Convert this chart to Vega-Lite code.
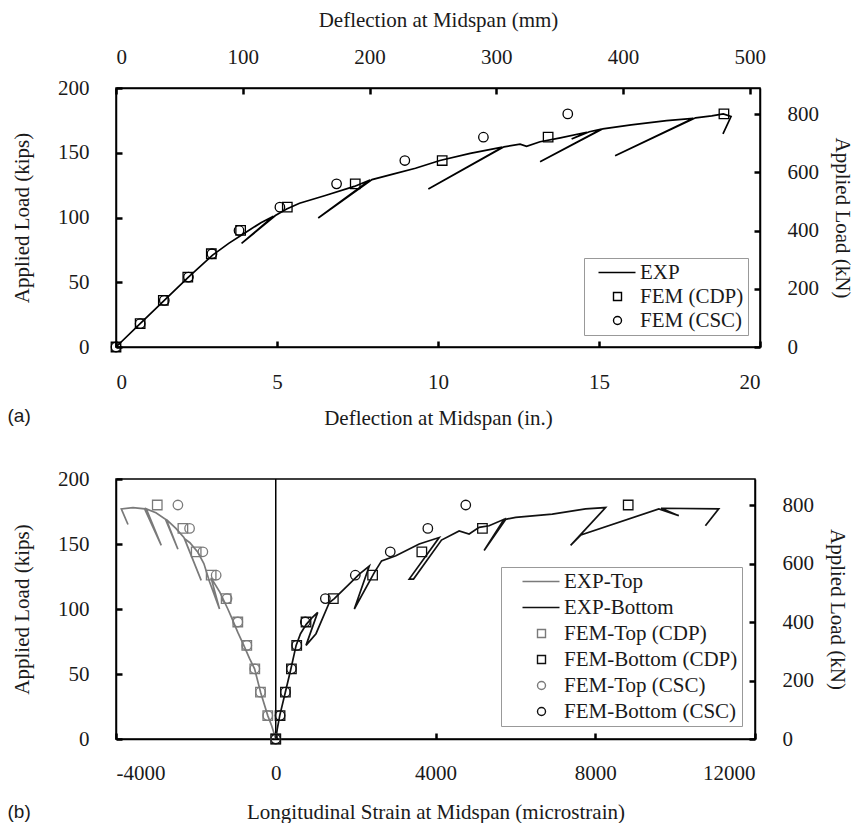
{
  "$schema": "https://vega.github.io/schema/vega-lite/v6.json",
  "padding": {"left": 6, "top": 8, "right": 0, "bottom": 0},
  "background": "white",
  "resolve": {"scale": {"shape": "independent", "color": "independent", "stroke": "independent", "x": "independent", "y": "independent"}},
  "config": {
    "font": "Liberation Serif",
    "view": {"stroke": "black", "strokeWidth": 1.5},
    "concat": {"spacing": 38},
    "axis": {
      "grid": false, "domainColor": "black", "domainWidth": 1.5,
      "tickColor": "black", "tickWidth": 2.5, "tickSize": -6,
      "labelFont": "Liberation Serif", "labelFontSize": 21, "labelColor": "#1a1a1a",
      "titleFont": "Liberation Serif", "titleFontSize": 21, "titleFontWeight": "normal", "titleColor": "#1a1a1a",
      "labelPadding": 24, "titlePadding": 23
    },
    "axisLeft": {"labelPadding": 33, "titlePadding": 25},
    "axisRight": {"labelPadding": 33, "titlePadding": 13},
    "axisTop": {"labelPadding": 27, "titlePadding": 16},
    "axisBottom": {"labelPadding": 30, "titlePadding": 15},
    "title": {"font": "Liberation Sans", "fontSize": 19, "fontWeight": "normal", "color": "#1a1a1a"}
  },
  "datasets": {
    "a_exp": [
      {"step": 0, "deflection": 0, "load": 0},
      {"step": 1, "deflection": 0.75, "load": 18},
      {"step": 2, "deflection": 1.5, "load": 36},
      {"step": 3, "deflection": 2.25, "load": 54},
      {"step": 4, "deflection": 3.0, "load": 71},
      {"step": 5, "deflection": 3.5, "load": 80},
      {"step": 6, "deflection": 4.0, "load": 88},
      {"step": 7, "deflection": 4.5, "load": 96},
      {"step": 8, "deflection": 4.89, "load": 101},
      {"step": 9, "deflection": 3.9, "load": 80},
      {"step": 10, "deflection": 4.95, "load": 101.5},
      {"step": 11, "deflection": 5.3, "load": 106.5},
      {"step": 12, "deflection": 5.7, "load": 111},
      {"step": 13, "deflection": 6.5, "load": 117},
      {"step": 14, "deflection": 7.4, "load": 124},
      {"step": 15, "deflection": 7.89, "load": 129},
      {"step": 16, "deflection": 6.28, "load": 99.6},
      {"step": 17, "deflection": 7.95, "load": 129.3},
      {"step": 18, "deflection": 8.6, "load": 133.5},
      {"step": 19, "deflection": 9.3, "load": 138},
      {"step": 20, "deflection": 10.06, "load": 144},
      {"step": 21, "deflection": 11.0, "load": 149.5},
      {"step": 22, "deflection": 12.0, "load": 154.3},
      {"step": 23, "deflection": 9.7, "load": 122},
      {"step": 24, "deflection": 12.05, "load": 154.6},
      {"step": 25, "deflection": 12.55, "load": 156.7},
      {"step": 26, "deflection": 12.75, "load": 155},
      {"step": 27, "deflection": 13.17, "load": 158.5},
      {"step": 28, "deflection": 13.8, "load": 161.5},
      {"step": 29, "deflection": 14.62, "load": 165.8},
      {"step": 30, "deflection": 14.15, "load": 160.6},
      {"step": 31, "deflection": 14.7, "load": 166.2},
      {"step": 32, "deflection": 15.08, "load": 168.3},
      {"step": 33, "deflection": 13.17, "load": 143},
      {"step": 34, "deflection": 15.12, "load": 168.5},
      {"step": 35, "deflection": 16.0, "load": 171.5},
      {"step": 36, "deflection": 17.1, "load": 174.8},
      {"step": 37, "deflection": 17.93, "load": 176.6},
      {"step": 38, "deflection": 15.5, "load": 147.7},
      {"step": 39, "deflection": 18.0, "load": 177},
      {"step": 40, "deflection": 18.5, "load": 178.5},
      {"step": 41, "deflection": 18.86, "load": 180},
      {"step": 42, "deflection": 19.1, "load": 178},
      {"step": 43, "deflection": 18.85, "load": 164.5}
    ],
    "a_fem": [
      {"series": "FEM (CSC)", "deflection": 0, "load": 0},
      {"series": "FEM (CSC)", "deflection": 0.75, "load": 18},
      {"series": "FEM (CSC)", "deflection": 1.5, "load": 36},
      {"series": "FEM (CSC)", "deflection": 2.25, "load": 54},
      {"series": "FEM (CSC)", "deflection": 2.98, "load": 72},
      {"series": "FEM (CSC)", "deflection": 3.82, "load": 90},
      {"series": "FEM (CSC)", "deflection": 5.09, "load": 108},
      {"series": "FEM (CSC)", "deflection": 6.85, "load": 126},
      {"series": "FEM (CSC)", "deflection": 8.97, "load": 144},
      {"series": "FEM (CSC)", "deflection": 11.41, "load": 162},
      {"series": "FEM (CSC)", "deflection": 14.03, "load": 180},
      {"series": "FEM (CDP)", "deflection": 0, "load": 0},
      {"series": "FEM (CDP)", "deflection": 0.75, "load": 18},
      {"series": "FEM (CDP)", "deflection": 1.47, "load": 36},
      {"series": "FEM (CDP)", "deflection": 2.23, "load": 54},
      {"series": "FEM (CDP)", "deflection": 2.96, "load": 72},
      {"series": "FEM (CDP)", "deflection": 3.87, "load": 90},
      {"series": "FEM (CDP)", "deflection": 5.32, "load": 108},
      {"series": "FEM (CDP)", "deflection": 7.43, "load": 126},
      {"series": "FEM (CDP)", "deflection": 10.13, "load": 144},
      {"series": "FEM (CDP)", "deflection": 13.42, "load": 162},
      {"series": "FEM (CDP)", "deflection": 18.88, "load": 180}
    ],
    "b_exp": [
      {"series": "EXP-Top", "step": 0, "strain": 0, "load": 0},
      {"series": "EXP-Top", "step": 1, "strain": -100, "load": 10},
      {"series": "EXP-Top", "step": 2, "strain": -200, "load": 18},
      {"series": "EXP-Top", "step": 3, "strain": -380, "load": 36},
      {"series": "EXP-Top", "step": 4, "strain": -530, "load": 54},
      {"series": "EXP-Top", "step": 5, "strain": -658, "load": 62},
      {"series": "EXP-Top", "step": 6, "strain": -800, "load": 72},
      {"series": "EXP-Top", "step": 7, "strain": -950, "load": 82},
      {"series": "EXP-Top", "step": 8, "strain": -1100, "load": 93},
      {"series": "EXP-Top", "step": 9, "strain": -1200, "load": 100},
      {"series": "EXP-Top", "step": 10, "strain": -1400, "load": 113},
      {"series": "EXP-Top", "step": 11, "strain": -1620, "load": 124},
      {"series": "EXP-Top", "step": 12, "strain": -1408, "load": 100},
      {"series": "EXP-Top", "step": 13, "strain": -1658, "load": 121},
      {"series": "EXP-Top", "step": 14, "strain": -1800, "load": 135},
      {"series": "EXP-Top", "step": 15, "strain": -1950, "load": 143.6},
      {"series": "EXP-Top", "step": 16, "strain": -2150, "load": 151},
      {"series": "EXP-Top", "step": 17, "strain": -2283, "load": 154},
      {"series": "EXP-Top", "step": 18, "strain": -1867, "load": 122},
      {"series": "EXP-Top", "step": 19, "strain": -2300, "load": 155},
      {"series": "EXP-Top", "step": 20, "strain": -2500, "load": 162},
      {"series": "EXP-Top", "step": 21, "strain": -2742, "load": 169},
      {"series": "EXP-Top", "step": 22, "strain": -2450, "load": 146},
      {"series": "EXP-Top", "step": 23, "strain": -2760, "load": 169},
      {"series": "EXP-Top", "step": 24, "strain": -3000, "load": 174},
      {"series": "EXP-Top", "step": 25, "strain": -3242, "load": 177},
      {"series": "EXP-Top", "step": 26, "strain": -2867, "load": 149},
      {"series": "EXP-Top", "step": 27, "strain": -3283, "load": 177},
      {"series": "EXP-Top", "step": 28, "strain": -3575, "load": 178},
      {"series": "EXP-Top", "step": 29, "strain": -3867, "load": 177},
      {"series": "EXP-Top", "step": 30, "strain": -3700, "load": 165},
      {"series": "EXP-Bottom", "step": 0, "strain": 0, "load": 0},
      {"series": "EXP-Bottom", "step": 1, "strain": 40, "load": 8},
      {"series": "EXP-Bottom", "step": 2, "strain": 100, "load": 18},
      {"series": "EXP-Bottom", "step": 3, "strain": 240, "load": 36},
      {"series": "EXP-Bottom", "step": 4, "strain": 380, "load": 54},
      {"series": "EXP-Bottom", "step": 5, "strain": 510, "load": 72},
      {"series": "EXP-Bottom", "step": 6, "strain": 620, "load": 81},
      {"series": "EXP-Bottom", "step": 7, "strain": 760, "load": 88},
      {"series": "EXP-Bottom", "step": 8, "strain": 900, "load": 93},
      {"series": "EXP-Bottom", "step": 9, "strain": 1050, "load": 97.4},
      {"series": "EXP-Bottom", "step": 10, "strain": 758, "load": 72},
      {"series": "EXP-Bottom", "step": 11, "strain": 1008, "load": 81},
      {"series": "EXP-Bottom", "step": 12, "strain": 1342, "load": 105},
      {"series": "EXP-Bottom", "step": 13, "strain": 1467, "load": 108},
      {"series": "EXP-Bottom", "step": 14, "strain": 1800, "load": 118},
      {"series": "EXP-Bottom", "step": 15, "strain": 2100, "load": 127},
      {"series": "EXP-Bottom", "step": 16, "strain": 2342, "load": 133},
      {"series": "EXP-Bottom", "step": 17, "strain": 1967, "load": 100},
      {"series": "EXP-Bottom", "step": 18, "strain": 2467, "load": 128},
      {"series": "EXP-Bottom", "step": 19, "strain": 2650, "load": 137},
      {"series": "EXP-Bottom", "step": 20, "strain": 3008, "load": 141},
      {"series": "EXP-Bottom", "step": 21, "strain": 3592, "load": 150},
      {"series": "EXP-Bottom", "step": 22, "strain": 4092, "load": 155},
      {"series": "EXP-Bottom", "step": 23, "strain": 3342, "load": 123},
      {"series": "EXP-Bottom", "step": 24, "strain": 3450, "load": 123},
      {"series": "EXP-Bottom", "step": 25, "strain": 4150, "load": 153},
      {"series": "EXP-Bottom", "step": 26, "strain": 4592, "load": 160},
      {"series": "EXP-Bottom", "step": 27, "strain": 4842, "load": 157.7},
      {"series": "EXP-Bottom", "step": 28, "strain": 5092, "load": 162.8},
      {"series": "EXP-Bottom", "step": 29, "strain": 5342, "load": 164},
      {"series": "EXP-Bottom", "step": 30, "strain": 5717, "load": 169},
      {"series": "EXP-Bottom", "step": 31, "strain": 5217, "load": 145},
      {"series": "EXP-Bottom", "step": 32, "strain": 5760, "load": 169},
      {"series": "EXP-Bottom", "step": 33, "strain": 6008, "load": 170.5},
      {"series": "EXP-Bottom", "step": 34, "strain": 6925, "load": 173},
      {"series": "EXP-Bottom", "step": 35, "strain": 7758, "load": 177},
      {"series": "EXP-Bottom", "step": 36, "strain": 8258, "load": 178},
      {"series": "EXP-Bottom", "step": 37, "strain": 7383, "load": 149},
      {"series": "EXP-Bottom", "step": 38, "strain": 7642, "load": 157},
      {"series": "EXP-Bottom", "step": 39, "strain": 9592, "load": 177},
      {"series": "EXP-Bottom", "step": 40, "strain": 10092, "load": 171.8},
      {"series": "EXP-Bottom", "step": 41, "strain": 9650, "load": 177.5},
      {"series": "EXP-Bottom", "step": 42, "strain": 11092, "load": 177},
      {"series": "EXP-Bottom", "step": 43, "strain": 10758, "load": 164}
    ],
    "b_fem": [
      {"series": "FEM-Top (CSC)", "strain": 0, "load": 0},
      {"series": "FEM-Top (CSC)", "strain": -200, "load": 18},
      {"series": "FEM-Top (CSC)", "strain": -383, "load": 36},
      {"series": "FEM-Top (CSC)", "strain": -525, "load": 54},
      {"series": "FEM-Top (CSC)", "strain": -725, "load": 72},
      {"series": "FEM-Top (CSC)", "strain": -950, "load": 90},
      {"series": "FEM-Top (CSC)", "strain": -1220, "load": 108},
      {"series": "FEM-Top (CSC)", "strain": -1492, "load": 126},
      {"series": "FEM-Top (CSC)", "strain": -1825, "load": 144},
      {"series": "FEM-Top (CSC)", "strain": -2158, "load": 162},
      {"series": "FEM-Top (CSC)", "strain": -2450, "load": 180},
      {"series": "FEM-Bottom (CSC)", "strain": 0, "load": 0},
      {"series": "FEM-Bottom (CSC)", "strain": 108, "load": 18},
      {"series": "FEM-Bottom (CSC)", "strain": 242, "load": 36},
      {"series": "FEM-Bottom (CSC)", "strain": 392, "load": 54},
      {"series": "FEM-Bottom (CSC)", "strain": 525, "load": 72},
      {"series": "FEM-Bottom (CSC)", "strain": 740, "load": 90},
      {"series": "FEM-Bottom (CSC)", "strain": 1242, "load": 108},
      {"series": "FEM-Bottom (CSC)", "strain": 1992, "load": 126},
      {"series": "FEM-Bottom (CSC)", "strain": 2867, "load": 144},
      {"series": "FEM-Bottom (CSC)", "strain": 3808, "load": 162},
      {"series": "FEM-Bottom (CSC)", "strain": 4758, "load": 180},
      {"series": "FEM-Top (CDP)", "strain": 0, "load": 0},
      {"series": "FEM-Top (CDP)", "strain": -200, "load": 18},
      {"series": "FEM-Top (CDP)", "strain": -383, "load": 36},
      {"series": "FEM-Top (CDP)", "strain": -525, "load": 54},
      {"series": "FEM-Top (CDP)", "strain": -725, "load": 72},
      {"series": "FEM-Top (CDP)", "strain": -950, "load": 90},
      {"series": "FEM-Top (CDP)", "strain": -1242, "load": 108},
      {"series": "FEM-Top (CDP)", "strain": -1617, "load": 126},
      {"series": "FEM-Top (CDP)", "strain": -1992, "load": 144},
      {"series": "FEM-Top (CDP)", "strain": -2325, "load": 162},
      {"series": "FEM-Top (CDP)", "strain": -2967, "load": 180},
      {"series": "FEM-Bottom (CDP)", "strain": 0, "load": 0},
      {"series": "FEM-Bottom (CDP)", "strain": 108, "load": 18},
      {"series": "FEM-Bottom (CDP)", "strain": 242, "load": 36},
      {"series": "FEM-Bottom (CDP)", "strain": 392, "load": 54},
      {"series": "FEM-Bottom (CDP)", "strain": 525, "load": 72},
      {"series": "FEM-Bottom (CDP)", "strain": 758, "load": 90},
      {"series": "FEM-Bottom (CDP)", "strain": 1442, "load": 108},
      {"series": "FEM-Bottom (CDP)", "strain": 2425, "load": 126},
      {"series": "FEM-Bottom (CDP)", "strain": 3658, "load": 144},
      {"series": "FEM-Bottom (CDP)", "strain": 5175, "load": 162},
      {"series": "FEM-Bottom (CDP)", "strain": 8825, "load": 180}
    ],
    "one": [{}]
  },
  "vconcat": [
    {
      "width": 644,
      "height": 259,
      "title": {"text": "(a)", "orient": "bottom", "anchor": "start", "frame": "bounds", "offset": -21, "dx": -4},
      "layer": [
        {
          "layer": [
            {
              "data": {"name": "a_exp"},
              "mark": {"type": "line", "color": "black", "strokeWidth": 1.7},
              "encoding": {
                "x": {"field": "deflection", "type": "quantitative", "scale": {"domain": [0, 20], "nice": false},
                      "axis": {"values": [0, 5, 10, 15, 20], "title": "Deflection at Midspan (in.)"}},
                "y": {"field": "load", "type": "quantitative", "scale": {"domain": [0, 200], "nice": false},
                      "axis": {"values": [0, 50, 100, 150, 200], "title": "Applied Load (kips)"}},
                "order": {"field": "step"}
              }
            },
            {
              "data": {"name": "a_fem"},
              "mark": {"type": "point", "filled": false, "color": "black", "size": 90, "strokeWidth": 1.3, "opacity": 1},
              "encoding": {
                "x": {"field": "deflection", "type": "quantitative"},
                "y": {"field": "load", "type": "quantitative"},
                "shape": {
                  "field": "series", "type": "nominal",
                  "scale": {"domain": ["EXP", "FEM (CDP)", "FEM (CSC)"], "range": ["M-4.75,0H4.5", "square", "circle"]},
                  "legend": {
                    "title": null, "orient": "bottom-right", "offset": 12, "padding": 4,
                    "strokeColor": "#999999", "labelFont": "Liberation Serif", "labelFontSize": 21, "labelColor": "#1a1a1a",
                    "symbolSize": 64, "symbolStrokeWidth": 1.4, "symbolStrokeColor": "black", "symbolFillColor": "transparent",
                    "rowPadding": 2, "symbolOffset": 19, "labelOffset": 12, "labelLimit": 400, "labelExpr": "datum.label + '\u00a0\u00a0'"
                  }
                }
              }
            }
          ]
        },
        {
          "data": {"name": "one"},
          "mark": {"type": "point", "opacity": 0},
          "encoding": {
            "y": {"datum": 0, "type": "quantitative", "scale": {"domain": [0, 889.64], "nice": false},
                  "axis": {"orient": "right", "values": [0, 200, 400, 600, 800], "title": "Applied Load (kN)"}}
          }
        },
        {
          "data": {"name": "one"},
          "mark": {"type": "point", "opacity": 0},
          "encoding": {
            "x": {"datum": 0, "type": "quantitative", "scale": {"domain": [0, 508], "nice": false},
                  "axis": {"orient": "top", "values": [0, 100, 200, 300, 400, 500], "title": "Deflection at Midspan (mm)"}}
          }
        }
      ],
      "resolve": {"scale": {"x": "independent", "y": "independent"}}
    },
    {
      "width": 639,
      "height": 260,
      "title": {"text": "(b)", "orient": "bottom", "anchor": "start", "frame": "bounds", "offset": -19, "dx": -4},
      "layer": [
        {
          "layer": [
            {
              "data": {"name": "one"},
              "mark": {"type": "rule", "color": "black", "strokeWidth": 1.5},
              "encoding": {"x": {"datum": 0, "type": "quantitative"}}
            },
            {
              "data": {"name": "b_exp"},
              "mark": {"type": "line", "strokeWidth": 1.7},
              "encoding": {
                "x": {"field": "strain", "type": "quantitative", "scale": {"domain": [-4000, 12000], "nice": false},
                      "axis": {"values": [-4000, 0, 4000, 8000, 12000], "title": "Longitudinal Strain at Midspan (microstrain)",
                               "labelPadding": 29, "titlePadding": 18,
                               "labelExpr": "datum.value < 0 ? '-' + format(-datum.value, 'd') : format(datum.value, 'd')"}},
                "y": {"field": "load", "type": "quantitative", "scale": {"domain": [0, 200], "nice": false},
                      "axis": {"values": [0, 50, 100, 150, 200], "title": "Applied Load (kips)"}},
                "stroke": {"field": "series", "type": "nominal", "scale": {"domain": ["EXP-Top", "EXP-Bottom"], "range": ["#7a7a7a", "#111111"]}, "legend": null},
                "order": {"field": "step"}
              }
            },
            {
              "data": {"name": "b_fem"},
              "mark": {"type": "point", "filled": false, "size": 90, "strokeWidth": 1.3, "opacity": 1},
              "encoding": {
                "x": {"field": "strain", "type": "quantitative"},
                "y": {"field": "load", "type": "quantitative"},
                "color": {
                  "field": "series", "type": "nominal",
                  "scale": {"domain": ["EXP-Top", "EXP-Bottom", "FEM-Top (CDP)", "FEM-Bottom (CDP)", "FEM-Top (CSC)", "FEM-Bottom (CSC)"],
                            "range": ["#7a7a7a", "#111111", "#7a7a7a", "#111111", "#7a7a7a", "#111111"]},
                  "legend": {
                    "title": null, "orient": "bottom-right", "offset": 13, "padding": 4,
                    "strokeColor": "#999999", "labelFont": "Liberation Serif", "labelFontSize": 21, "labelColor": "#1a1a1a",
                    "symbolSize": 64, "symbolStrokeWidth": 1.4, "symbolFillColor": "transparent",
                    "rowPadding": 4, "symbolOffset": 26, "labelOffset": 12, "labelLimit": 400, "labelExpr": "datum.label + '\u00a0\u00a0\u00a0'"
                  }
                },
                "shape": {
                  "field": "series", "type": "nominal",
                  "scale": {"domain": ["EXP-Top", "EXP-Bottom", "FEM-Top (CDP)", "FEM-Bottom (CDP)", "FEM-Top (CSC)", "FEM-Bottom (CSC)"],
                            "range": ["M-4.75,0H4.5", "M-4.75,0H4.5", "square", "square", "circle", "circle"]},
                  "legend": {
                    "title": null, "orient": "bottom-right", "offset": 13, "padding": 4,
                    "strokeColor": "#999999", "labelFont": "Liberation Serif", "labelFontSize": 21, "labelColor": "#1a1a1a",
                    "symbolSize": 64, "symbolStrokeWidth": 1.4, "symbolFillColor": "transparent",
                    "rowPadding": 4, "symbolOffset": 26, "labelOffset": 12, "labelLimit": 400, "labelExpr": "datum.label + '\u00a0\u00a0\u00a0'"
                  }
                }
              }
            }
          ]
        },
        {
          "data": {"name": "one"},
          "mark": {"type": "point", "opacity": 0},
          "encoding": {
            "y": {"datum": 0, "type": "quantitative", "scale": {"domain": [0, 889.64], "nice": false},
                  "axis": {"orient": "right", "values": [0, 200, 400, 600, 800], "title": "Applied Load (kN)"}}
          }
        }
      ],
      "resolve": {"scale": {"y": "independent"}}
    }
  ]
}
